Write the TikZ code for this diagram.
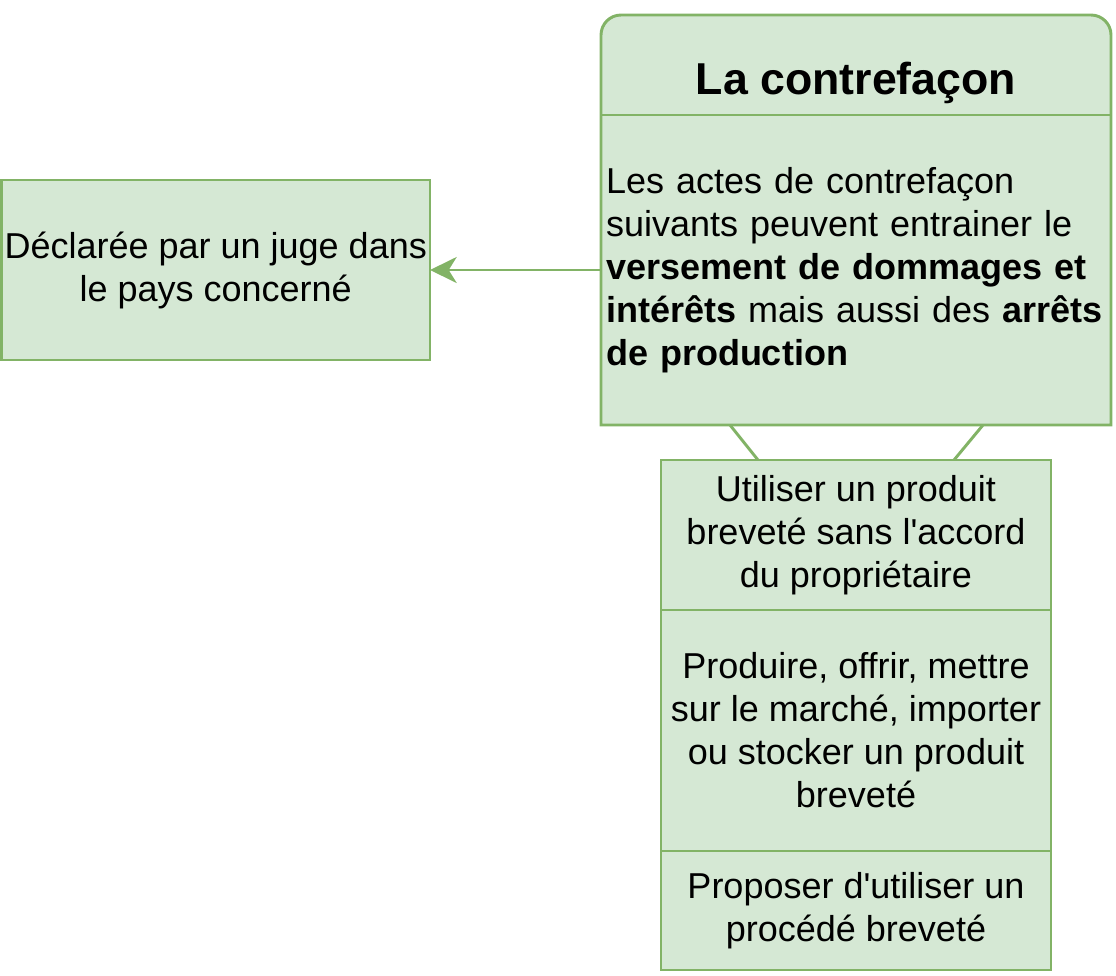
\documentclass[tikz,border=0pt]{standalone}
\usepackage{fontspec}
\setmainfont{Liberation Sans}[Ligatures=TeXOff]
\usetikzlibrary{positioning,arrows.meta,backgrounds}
\definecolor{vertclair}{HTML}{D5E8D4}
\definecolor{vertfonce}{HTML}{82B366}
\begin{document}
\begin{tikzpicture}[x=0.75pt,y=-0.75pt,
    boite/.style={draw=vertfonce,fill=vertclair,line width=2.2pt,outer sep=0pt,inner sep=0pt,align=center},
    cadre/.style={outer sep=0pt,inner sep=0pt},
    trait/.style={draw=vertfonce,line width=2.2pt},
    fleche/.style={trait,-{Stealth[length=20pt,width=19.5pt,inset=6pt]}},
    font=\fontsize{27pt}{32.25pt}\selectfont]
  \useasboundingbox (0,0) rectangle (1116,975);
  % la contrefacon
  \node[cadre,minimum width=382.5pt,minimum height=75pt] (entete) at (856,65) {};
  \node[anchor=base,font=\fontsize{33.5pt}{40pt}\selectfont\bfseries] (titre) at ([yshift=-21.75pt]entete.center) {La contrefaçon};
  \node[cadre,below=0pt of entete,minimum height=232.5pt,text width=375pt,inner xsep=3.75pt,align=left] (corps)
    {Les actes de contrefaçon\\suivants peuvent entrainer le\\\textbf{versement de dommages et}\\\textbf{intérêts} mais aussi des \textbf{arrêts}\\\textbf{de production}};
  \begin{scope}[on background layer]
    \filldraw[fill=vertclair,draw=vertfonce,line width=2.2pt] (corps.south west) [rounded corners=15pt] -- (entete.north west) -- (entete.north east) [sharp corners] -- (corps.south east) -- cycle;
    \draw[trait] (entete.south west) -- (entete.south east);
  \end{scope}
  % juge
  \node[boite,minimum width=321.4pt,minimum height=135pt] (juge) at (215.75,270) {Déclarée par un juge dans\\le pays concerné};
  % actes
  \node[boite,minimum width=292.5pt,minimum height=112.5pt] (usage) at (856,535) {Utiliser un produit\\breveté sans l'accord\\du propriétaire};
  \node[boite,minimum width=292.5pt,minimum height=180.75pt,below=0pt of usage] (production) {Produire, offrir, mettre\\sur le marché, importer\\ou stocker un produit\\breveté};
  \node[boite,minimum width=292.5pt,minimum height=89.25pt,below=0pt of production] (procede) {Proposer d'utiliser un\\procédé breveté};
  \draw[fleche] (corps.west) -- (juge.east);
  \draw[trait] ([xshift=-94.5pt]corps.south) -- ([xshift=-73.5pt]usage.north);
  \draw[trait] ([xshift=95.25pt]corps.south) -- ([xshift=73.5pt]usage.north);
\end{tikzpicture}
\end{document}
